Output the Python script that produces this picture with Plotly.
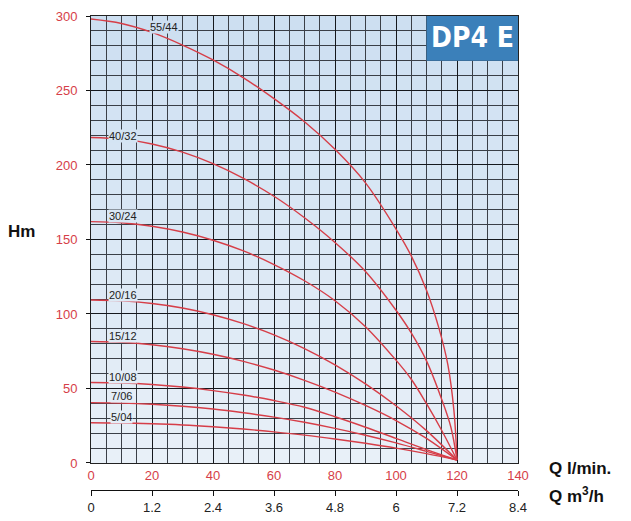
import plotly.graph_objects as go

# ---- data ----
models = ["55/44", "40/32", "30/24", "20/16", "15/12", "10/08", "7/06", "5/04"]

q_55_44 = [0, 10, 20, 30, 40, 50, 60, 70, 80, 90, 100, 105, 110, 114, 117, 119, 120]
h_55_44 = [298, 295, 289, 280.5, 270.5, 258.5, 244.5, 229, 210.5, 188, 157, 139, 116, 91, 66, 35, 2]

q_40_32 = [0, 10, 20, 30, 40, 50, 60, 70, 80, 90, 100, 105, 110, 115, 118, 120]
h_40_32 = [218.5, 217.4, 214.1, 208.6, 200.9, 191, 179, 164.6, 148, 128.5, 102.5, 87.3, 68.5, 42.6, 24, 2]

q_30_24 = [0, 10, 20, 30, 40, 50, 60, 70, 80, 90, 100, 105, 110, 115, 120]
h_30_24 = [162, 161.2, 158.9, 155, 149.5, 142.3, 133.2, 122.3, 108.9, 91.5, 69, 56.2, 39.8, 21.8, 2]

q_20_16 = [0, 10, 20, 30, 40, 50, 60, 70, 80, 90, 100, 110, 120]
h_20_16 = [109.4, 108.8, 107, 104, 99.5, 93.5, 86, 76.8, 65.9, 53.1, 38.4, 21.7, 2]

q_15_12 = [0, 10, 20, 30, 40, 50, 60, 70, 80, 90, 100, 110, 120]
h_15_12 = [81.5, 81, 79.4, 76.7, 73, 68.2, 62.4, 55.5, 47.6, 38.6, 28.5, 16.5, 2]

q_10_08 = [0, 10, 20, 30, 40, 50, 60, 70, 80, 90, 100, 110, 120]
h_10_08 = [54, 53.7, 52.7, 51, 48.6, 45.6, 41.9, 37.4, 31, 24, 16.5, 9, 2]

q_7_06 = [0, 10, 20, 30, 40, 50, 60, 70, 80, 90, 100, 110, 120]
h_7_06 = [40.5, 40.2, 39.4, 38.1, 36.2, 33.7, 30.8, 27.3, 23.2, 18.6, 13.5, 7.8, 2]

q_5_04 = [0, 10, 20, 30, 40, 50, 60, 70, 80, 90, 100, 110, 120]
h_5_04 = [27, 26.8, 26.3, 25.5, 24.3, 22.8, 20.9, 18.7, 16.1, 13.2, 10, 6.3, 2]

x_ticks_lmin = [0, 20, 40, 60, 80, 100, 120, 140]
x_ticks_m3h = ["0", "1.2", "2.4", "3.6", "4.8", "6", "7.2", "8.4"]
y_ticks = [0, 50, 100, 150, 200, 250, 300]
title_box = "DP4 E"

curves_q = [q_55_44, q_40_32, q_30_24, q_20_16, q_15_12, q_10_08, q_7_06, q_5_04]
curves_h = [h_55_44, h_40_32, h_30_24, h_20_16, h_15_12, h_10_08, h_7_06, h_5_04]

# label anchor positions (Q, Hm)
label_pos = [(24, 292.5), (10.5, 219.5), (10.5, 166), (10.5, 112.8),
             (10.5, 85.4), (10.5, 58), (10, 45), (10, 31)]

RED = "#d63e48"
FONT = "Liberation Sans, Arial, sans-serif"
TOP_BG = (0xcd, 0xdf, 0xf1)
BOT_BG = (0xe8, 0xf0, 0xf8)


def bg_at(h):
    t = h / 300.0
    c = [round(b + (a - b) * t) for a, b in zip(TOP_BG, BOT_BG)]
    return "rgb(%d,%d,%d)" % tuple(c)


fig = go.Figure()
for name, q, h in zip(models, curves_q, curves_h):
    fig.add_trace(go.Scatter(x=q, y=h, mode="lines", name=name,
                             line=dict(color=RED, width=1.4, shape="spline", smoothing=1.0),
                             hoverinfo="skip", showlegend=False))

# invisible trace for the secondary (m3/h) axis
fig.add_trace(go.Scatter(x=[0, 8.4], y=[0, 0], xaxis="x2", mode="markers",
                         marker=dict(opacity=0), hoverinfo="skip", showlegend=False))

# background gradient strips (below the grid)
shapes = []
n_strips = 30
for i in range(n_strips):
    y0 = 300 * i / n_strips
    y1 = 300 * (i + 1) / n_strips
    shapes.append(dict(type="rect", xref="x", yref="y", x0=0, x1=140, y0=y0, y1=y1,
                       fillcolor=bg_at((y0 + y1) / 2), line=dict(width=0), layer="below"))
shapes.append(dict(type="rect", xref="x", yref="y", x0=110, x1=140, y0=270, y1=300,
                   fillcolor="#3b80ba", line=dict(width=0), layer="above"))

annotations = []
for name, (qx, hy) in zip(models, label_pos):
    annotations.append(dict(x=qx, y=hy, xref="x", yref="y", text=name, showarrow=False,
                            font=dict(family=FONT, size=11, color="#222"),
                            bgcolor=bg_at(hy), borderpad=0))

annotations += [
    dict(x=125, y=285.5, xref="x", yref="y", text="<b>" + title_box + "</b>", showarrow=False,
         font=dict(family="DejaVu Sans Condensed, Liberation Sans Narrow, sans-serif", size=28, color="white")),
    dict(x=-0.1616, y=0.555, xref="paper", yref="paper", text="<b>Hm</b>", showarrow=False,
         xanchor="center", yanchor="middle", font=dict(family=FONT, size=17, color="#111")),
    dict(x=1.068, y=0.068, xref="paper", yref="paper", text="<b>Q l/min.</b>", showarrow=False,
         xanchor="left", yanchor="middle", font=dict(family=FONT, size=17, color="#111")),
    dict(x=1.068, y=0.012, xref="paper", yref="paper", text="<b>Q m<sup>3</sup>/h</b>", showarrow=False,
         xanchor="left", yanchor="middle", font=dict(family=FONT, size=17, color="#111")),
]

fig.update_layout(
    width=623, height=513,
    margin=dict(l=83, r=113, t=8, b=20, autoexpand=False),
    paper_bgcolor="white",
    plot_bgcolor="#dbe7f4",
    xaxis=dict(range=[0, 140], tickvals=x_ticks_lmin, showgrid=True, automargin=False,
               gridcolor="#15181d", gridwidth=1.2,
               minor=dict(dtick=5, showgrid=True, gridcolor="#3a3f47", gridwidth=1.2),
               tickfont=dict(family=FONT, size=13, color=RED),
               showline=True, linecolor="#222", linewidth=1, mirror=True,
               zeroline=False, ticks="", fixedrange=True),
    xaxis2=dict(range=[0, 8.4], overlaying="x", anchor="free", position=0.0227, automargin=False,
                tickvals=[0, 1.2, 2.4, 3.6, 4.8, 6, 7.2, 8.4], ticktext=x_ticks_m3h,
                showgrid=False, zeroline=False, showline=True, linecolor="#111", linewidth=1.2,
                ticks="outside", ticklen=5, tickcolor="#111", side="bottom",
                tickfont=dict(family=FONT, size=13, color="#222")),
    yaxis=dict(range=[0, 300], tickvals=y_ticks, domain=[0.0784, 1], automargin=False,
               showgrid=True, gridcolor="#15181d", gridwidth=1.2,
               minor=dict(dtick=10, showgrid=True, gridcolor="#3a3f47", gridwidth=1.2),
               tickfont=dict(family=FONT, size=13, color=RED),
               ticks="outside", ticklen=4, tickcolor="#111", ticklabelstandoff=6,
               showline=True, linecolor="#222", linewidth=1, mirror=True,
               zeroline=False),
    shapes=shapes,
    annotations=annotations,
)

fig.write_html("out.html")
